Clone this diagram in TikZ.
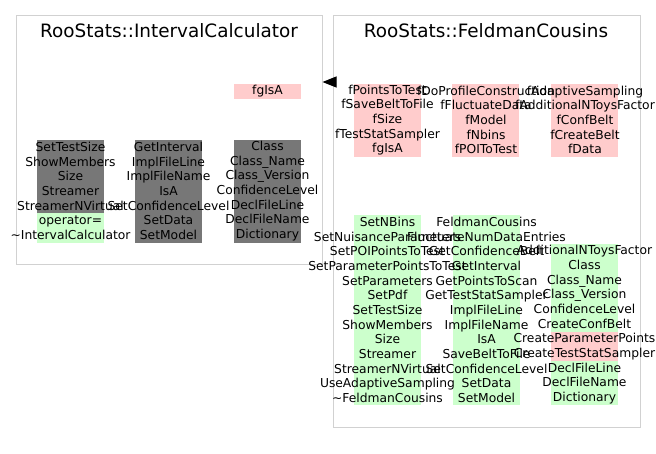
\documentclass[tikz,border=0pt]{standalone}
\usepackage{fontspec}
\setmainfont{DejaVu Sans}
\usepackage{xcolor}
\usetikzlibrary{arrows.meta}
\usetikzlibrary{math}

\definecolor{pinkbg}{HTML}{FFCCCC}
\definecolor{greenbg}{HTML}{CCFFCC}
\definecolor{graybg}{HTML}{777777}

\tikzset{
  frame/.style={draw=black!18, line width=1pt, inner sep=0pt},
  classtitle/.style={font=\fontsize{18.4}{20}\selectfont},
  members/.style={align=center, inner sep=0pt, font=\fontsize{12.3}{14.67}\selectfont},
  inherits/.style={-{Triangle[length=14pt, width=11pt]}, line width=1pt},
}

\begin{document}
\begin{tikzpicture}[x=1pt, y=-1pt]
\tikzmath{
\h=14.67;
\w=67;
}
\useasboundingbox (0,0) rectangle (656,453);

\node[frame, minimum width=306pt, minimum height=249pt] (ic) at (169,139.5) {};
\node[frame, minimum width=307pt, minimum height=412pt] (fc) at (486.5,221) {};
\draw[inherits] (fc.west |- 0,82) -- (ic.east |- 0,82);

\node[classtitle] (icTitle) at (169,30.5) {RooStats::IntervalCalculator};
\node[classtitle] (fcTitle) at (486,30.5) {RooStats::FeldmanCousins};

% RooStats::IntervalCalculator
\fill[pinkbg] (234,84) rectangle +(\w,15);
\fill[graybg] (37,140) rectangle +(\w,5*\h);
\fill[greenbg] (37,140+5*\h) rectangle +(\w,2*\h);
\fill[graybg] (135,140) rectangle +(\w,7*\h);
\fill[graybg] (234,140) rectangle +(\w,7*\h);

\node[members] (icData) at (267.5,91) {fgIsA};
\node[members] (icFunc1) at (70.5,191) {SetTestSize\\ShowMembers\\Size\\Streamer\\StreamerNVirtual\\operator=\\\textasciitilde IntervalCalculator};
\node[members] (icFunc2) at (168.5,191) {GetInterval\\ImplFileLine\\ImplFileName\\IsA\\SetConfidenceLevel\\SetData\\SetModel};
\node[members] (icFunc3) at (267.5,191) {Class\\Class\_Name\\Class\_Version\\ConfidenceLevel\\DeclFileLine\\DeclFileName\\Dictionary};

% RooStats::FeldmanCousins
\fill[pinkbg] (354,84) rectangle +(\w,5*\h);
\fill[pinkbg] (452,84) rectangle +(\w,5*\h);
\fill[pinkbg] (551,84) rectangle +(\w,5*\h);
\fill[greenbg] (354,214.7) rectangle +(\w,13*\h);
\fill[greenbg] (453,214.7) rectangle +(\w,13*\h);
\fill[greenbg] (551,214.7+2*\h) rectangle +(\w,11*\h);
\fill[pinkbg] (551,214.7+8*\h) rectangle +(\w,2*\h);

\node[members] (fcData1) at (387.5,120) {fPointsToTest\\fSaveBeltToFile\\fSize\\fTestStatSampler\\fgIsA};
\node[members] (fcData2) at (486,120) {fDoProfileConstruction\\fFluctuateData\\fModel\\fNbins\\fPOIToTest};
\node[members] (fcData3) at (585,120) {fAdaptiveSampling\\fAdditionalNToysFactor\\fConfBelt\\fCreateBelt\\fData};

\node[members] (fcFunc1) at (387.5,310) {SetNBins\\SetNuisanceParameters\\SetPOIPointsToTest\\SetParameterPointsToTest\\SetParameters\\SetPdf\\SetTestSize\\ShowMembers\\Size\\Streamer\\StreamerNVirtual\\UseAdaptiveSampling\\\textasciitilde FeldmanCousins};
\node[members] (fcFunc2) at (486.5,310) {FeldmanCousins\\FluctuateNumDataEntries\\GetConfidenceBelt\\GetInterval\\GetPointsToScan\\GetTestStatSampler\\ImplFileLine\\ImplFileName\\IsA\\SaveBeltToFile\\SetConfidenceLevel\\SetData\\SetModel};
\node[members] (fcFunc3) at (584.5,324.7) {AdditionalNToysFactor\\Class\\Class\_Name\\Class\_Version\\ConfidenceLevel\\CreateConfBelt\\CreateParameterPoints\\CreateTestStatSampler\\DeclFileLine\\DeclFileName\\Dictionary};

\end{tikzpicture}
\end{document}
